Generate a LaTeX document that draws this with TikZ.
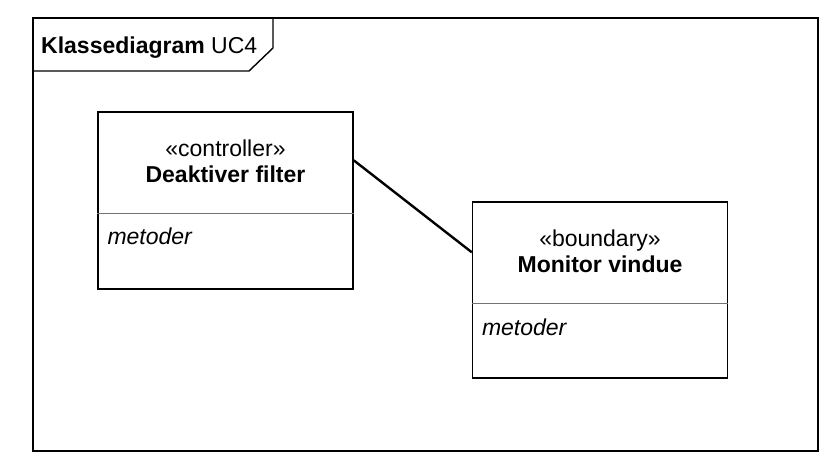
\documentclass[tikz,border=0pt]{standalone}
\usepackage{fontspec}
\setmainfont{Liberation Sans}
\usetikzlibrary{positioning,calc}
\tikzset{
  frm/.style={black, line width=1.4pt},
  cls/.style={draw=black, line width=1.4pt, minimum width=255pt, inner sep=0pt},
  sep/.style={black!55, line width=1pt},
  assoc/.style={black, line width=2.4pt},
  ster/.style={font=\fontsize{23}{27}\selectfont, anchor=base, inner sep=0pt},
  cname/.style={font=\fontsize{23}{27}\selectfont\bfseries, anchor=base, inner sep=0pt},
  ops/.style={font=\fontsize{23}{27}\selectfont\itshape, anchor=base west, inner sep=0pt},
}
\begin{document}
\begin{tikzpicture}[x=1pt,y=-1pt]
\useasboundingbox (0,0) rectangle (834,474);
% diagram frame with name tab
\draw[frm] (33,18) rectangle (818,451);
\draw[frm] (33,71) -- (249,71) -- (273,48) -- (273,18);
\node[font=\fontsize{23}{27}\selectfont, anchor=base west, inner sep=0pt] (ttl) at (41,53)
  {\textbf{Klassediagram} UC4};

% controller class
\node[cls, minimum height=177pt] (ctl) at (225.5,200.5) {};
\draw[sep] (ctl.west |- 0,213) -- (ctl.east |- 0,213);
\node[ster] (ctlst) at ($(ctl.north)+(0,45)$) {«controller»};
\node[cname] (ctlnm) at ($(ctl.north)+(0,71.5)$) {Deaktiver filter};
\node[ops] (ctlop) at ($(ctl.north west)+(10,133)$) {metoder};

% boundary class
\node[cls, minimum height=176pt] (bnd) at (600,290) {};
\draw[sep] (bnd.west |- 0,303) -- (bnd.east |- 0,303);
\node[ster] (bndst) at ($(bnd.north)+(0,45)$) {«boundary»};
\node[cname] (bndnm) at ($(bnd.north)+(0,71.5)$) {Monitor vindue};
\node[ops] (bndop) at ($(bnd.north west)+(10,134)$) {metoder};

% association
\coordinate (ctlend) at ($(ctl.north east)+(0,49)$);
\coordinate (bndend) at ($(bnd.north west)+(0,51)$);
\draw[assoc] (ctlend) -- (bndend);
\end{tikzpicture}
\end{document}
